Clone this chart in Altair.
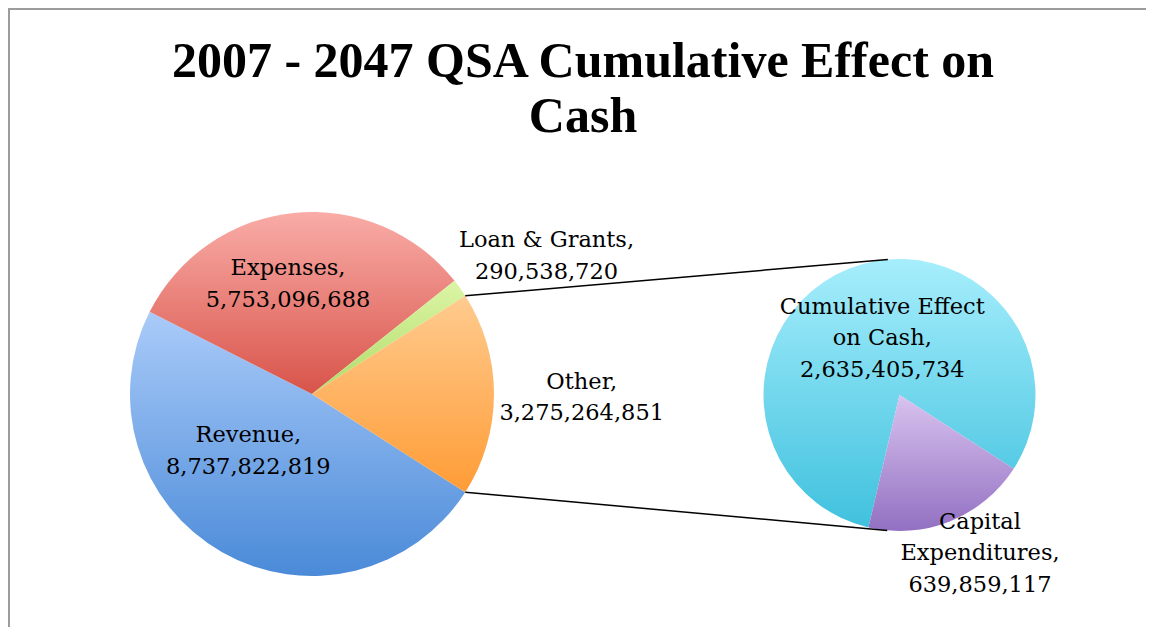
import math
import altair as alt
import pandas as pd

# ---------------- data ----------------
TITLE_LINES = ["2007 - 2047 QSA Cumulative Effect on", "Cash"]

MAIN_CATS = ["Revenue", "Expenses", "Loan & Grants", "Other"]
MAIN_VALUES = [8737822819, 5753096688, 290538720, 3275264851]
MAIN_LABEL_NAMES = [["Revenue,"], ["Expenses,"], ["Loan & Grants,"], ["Other,"]]

SUB_CATS = ["Cumulative Effect on Cash", "Capital Expenditures"]
SUB_VALUES = [2635405734, 639859117]
SUB_LABEL_NAMES = [["Cumulative Effect", "on Cash,"], ["Capital", "Expenditures,"]]

# ---------------- style / layout ----------------
MAIN_COLORS = [("#aacbf9", "#4a8ad8"), ("#f9aca7", "#d8544a"),
               ("#dcf5a6", "#b0dc68"), ("#ffcb8f", "#ff9c36")]
SUB_COLORS = [("#a6eefc", "#40c1de"), ("#d9c3ef", "#9270c2")]

W, H = 1138, 619
MAIN_C, MAIN_R = (304, 386), 182
SUB_C, SUB_R = (891.5, 387), 136
SUB_START_DEG = 193.2

LABEL_FONT, LABEL_SIZE, LINE_H = "DejaVu Serif", 22.5, 31.7
MAIN_LABEL_POS = [(240.3, 427), (280, 260.3), (538.5, 232), (573.7, 373.7)]
SUB_LABEL_POS = [(874.3, 298.7), (972, 513.7)]
TITLE_X, TITLE_Y = 575, [69.3, 123.7]


def grad(top, bottom):
    return {"gradient": "linear", "x1": 0, "y1": 0, "x2": 0, "y2": 1,
            "stops": [{"offset": 0, "color": top}, {"offset": 1, "color": bottom}]}


def fill_for(cats, colors):
    expr = None
    for cat, col in zip(cats[:-1], colors[:-1]):
        cond = alt.datum.cat == cat
        if expr is None:
            expr = alt.when(cond).then(alt.value(grad(*col)))
        else:
            expr = expr.when(cond).then(alt.value(grad(*col)))
    return expr.otherwise(alt.value(grad(*colors[-1])))


def pie(cats, values, colors, start, center, r):
    df = pd.DataFrame({"cat": cats, "value": values, "idx": list(range(len(cats)))})
    return alt.Chart(df).mark_arc(radius=r).encode(
        theta=alt.Theta("value:Q", stack=True,
                        scale=alt.Scale(range=[start, start + 2 * math.pi])),
        order=alt.Order("idx:Q", sort="ascending"),
        fill=fill_for(cats, colors),
        x=alt.value(center[0]),
        y=alt.value(center[1]),
    )


main_total = sum(MAIN_VALUES)
other_frac = MAIN_VALUES[-1] / main_total
main_start = math.pi / 2 + math.pi * other_frac
sub_start = math.radians(SUB_START_DEG)

main_pie = pie(MAIN_CATS, MAIN_VALUES, MAIN_COLORS, main_start, MAIN_C, MAIN_R)
sub_pie = pie(SUB_CATS, SUB_VALUES, SUB_COLORS, sub_start, SUB_C, SUB_R)


# connector lines: from the "Other" slice edges to tangents of the second pie
def polar(c, r, th):
    return (c[0] + r * math.sin(th), c[1] - r * math.cos(th))


th_a = main_start + 2 * math.pi * (1 - other_frac)  # Loan/Other boundary
th_b = main_start  # Other/Revenue boundary
pa = polar(MAIN_C, MAIN_R, th_a)
pb = polar(MAIN_C, MAIN_R, th_b)


def tangent(p, c, r, sign):
    dx, dy = p[0] - c[0], p[1] - c[1]
    d = math.hypot(dx, dy)
    phi = math.atan2(dy, dx)
    a = math.acos(r / d)
    ang = phi + sign * a
    return (c[0] + r * math.cos(ang), c[1] + r * math.sin(ang))


ta = tangent(pa, SUB_C, SUB_R, +1)
tb = tangent(pb, SUB_C, SUB_R, -1)
lines_df = pd.DataFrame({"x": [pa[0], pb[0]], "y": [pa[1], pb[1]],
                         "x2": [ta[0], tb[0]], "y2": [ta[1], tb[1]]})
connectors = alt.Chart(lines_df).mark_rule(color="black", strokeWidth=1.5).encode(
    x=alt.X("x:Q", scale=None, axis=None),
    y=alt.Y("y:Q", scale=None, axis=None),
    x2="x2:Q",
    y2="y2:Q",
)

# labels
rows = []
for names, v, pos in zip(MAIN_LABEL_NAMES + SUB_LABEL_NAMES,
                         MAIN_VALUES + SUB_VALUES,
                         MAIN_LABEL_POS + SUB_LABEL_POS):
    lines = names + [f"{v:,}"]
    for i, t in enumerate(lines):
        rows.append({"text": t, "x": pos[0], "y": pos[1] + i * LINE_H})
labels = alt.Chart(pd.DataFrame(rows)).mark_text(
    font=LABEL_FONT, fontSize=LABEL_SIZE, color="black",
    align="center", baseline="middle"
).encode(
    x=alt.X("x:Q", scale=None, axis=None),
    y=alt.Y("y:Q", scale=None, axis=None),
    text="text:N",
)

title_df = pd.DataFrame({"text": TITLE_LINES, "x": [TITLE_X] * len(TITLE_LINES), "y": TITLE_Y})
title = alt.Chart(title_df).mark_text(
    font="Liberation Serif", fontSize=50, fontWeight="bold", color="black",
    align="center", baseline="alphabetic"
).encode(
    x=alt.X("x:Q", scale=None, axis=None),
    y=alt.Y("y:Q", scale=None, axis=None),
    text="text:N",
)

border_left = alt.Chart().mark_rule(color="#9c9c9c", strokeWidth=2).encode(
    x=alt.value(1), y=alt.value(0), y2=alt.value(H))
border_top = alt.Chart().mark_rule(color="#9c9c9c", strokeWidth=2).encode(
    x=alt.value(0), x2=alt.value(W), y=alt.value(1))

chart = alt.layer(
    border_left, border_top, main_pie, sub_pie, connectors, labels, title
).resolve_scale(theta="independent").properties(
    width=W, height=H, padding=0,
    autosize=alt.AutoSizeParams(type="none"),
).configure_view(stroke=None)

chart.save("out.html", embed_options={"renderer": "svg", "actions": False})
